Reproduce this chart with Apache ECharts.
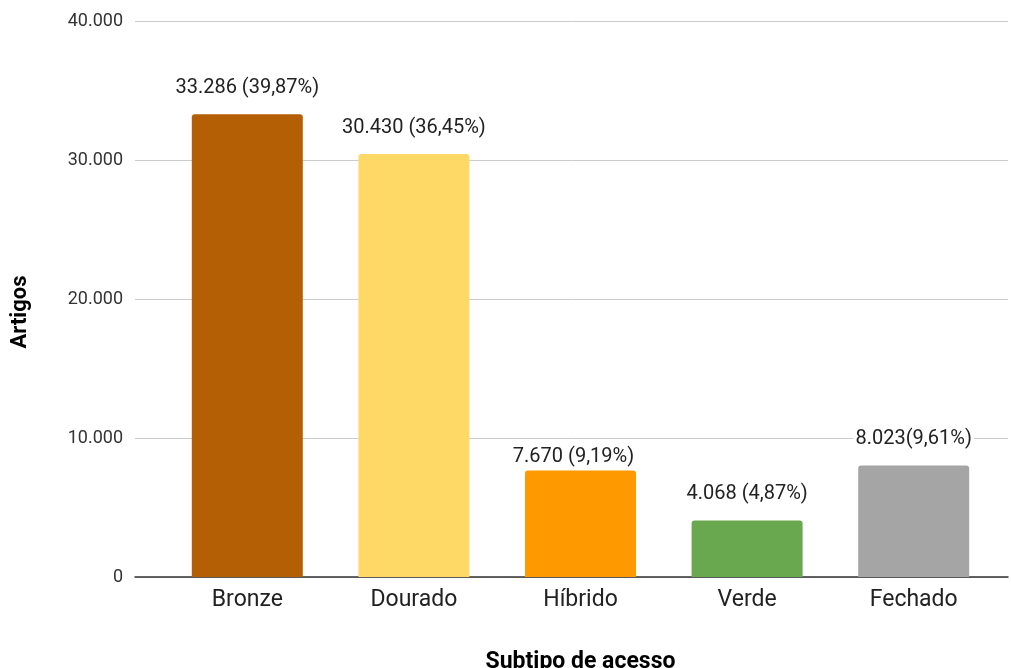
<!DOCTYPE html>
<html>
<head>
<meta charset="utf-8">
<script src="https://cdn.jsdelivr.net/npm/echarts@6/dist/echarts.min.js"></script>
<style>
  html, body { margin: 0; padding: 0; background: #ffffff; }
  #chart { width: 1011px; height: 668px; }
</style>
</head>
<body>
<div id="chart"></div>
<script>
// Articles per access subtype
const categories = ['Bronze', 'Dourado', 'Híbrido', 'Verde', 'Fechado'];
const articles = [33286, 30430, 7670, 4068, 8023];
const shares = ['39,87%', '36,45%', '9,19%', '4,87%', '9,61%'];
const shareGaps = [' ', ' ', ' ', ' ', ''];
const barColors = ['#b45f06', '#ffd966', '#ff9900', '#6aa84f', '#a5a5a5'];
const yTicks = [0, 10000, 20000, 30000, 40000];
const yTitle = 'Artigos';
const xTitle = 'Subtipo de acesso';

const fmt = v => String(v).replace(/\B(?=(\d{3})+(?!\d))/g, '.');

const yMin = yTicks[0];
const yMax = yTicks[yTicks.length - 1];
const yStep = yTicks[1] - yTicks[0];

// the Híbrido label sits lower and slightly left of its bar
const labelTweaks = { 2: { distance: 3, offset: [-7, 0] } };

const chart = echarts.init(document.getElementById('chart'));
chart.setOption({
  backgroundColor: '#ffffff',
  animation: false,
  textStyle: { fontFamily: 'Roboto' },
  grid: [
    // frame with gridlines and baseline
    { left: 135, right: 3, top: 21, bottom: 91, outerBoundsMode: 'none', containLabel: false },
    // bars
    { left: 164, right: 14, top: 21, bottom: 91, outerBoundsMode: 'none', containLabel: false }
  ],
  graphic: [{
    type: 'text', x: 20, y: 312, rotation: Math.PI / 2,
    style: {
      text: yTitle, align: 'center', verticalAlign: 'middle',
      fill: '#000000', font: 'bold 22px Roboto'
    }
  }],
  xAxis: [
    {
      gridIndex: 0, type: 'value', min: 0, max: 1,
      axisLine: { show: true, lineStyle: { color: '#333333', width: 1.5 } },
      axisTick: { show: false }, axisLabel: { show: false }, splitLine: { show: false }
    },
    {
      gridIndex: 1, type: 'category', data: categories,
      axisLine: { show: false }, axisTick: { show: false },
      axisLabel: { color: '#222222', fontSize: 23, margin: 12 },
      name: xTitle, nameLocation: 'middle', nameGap: 74,
      nameTextStyle: { color: '#000000', fontSize: 23, fontWeight: 'bold' }
    }
  ],
  yAxis: [
    {
      gridIndex: 0, type: 'value', min: yMin, max: yMax, interval: yStep,
      axisLine: { show: false }, axisTick: { show: false },
      axisLabel: { color: '#333333', fontSize: 18, margin: 12, formatter: v => fmt(v) },
      splitLine: { lineStyle: { color: '#cccccc', width: 1 } }
    },
    {
      gridIndex: 1, type: 'value', min: yMin, max: yMax, interval: yStep,
      show: false
    }
  ],
  series: [{
    type: 'bar',
    xAxisIndex: 1, yAxisIndex: 1,
    barWidth: 111,
    data: articles.map((v, i) => ({
      value: v,
      itemStyle: { color: barColors[i], borderRadius: [3, 3, 0, 0] },
      label: labelTweaks[i] || {}
    })),
    label: {
      show: true, position: 'top', distance: 16,
      color: '#222222', fontSize: 20,
      backgroundColor: '#ffffff', padding: [0, 2],
      formatter: p => fmt(p.value) + shareGaps[p.dataIndex] + '(' + shares[p.dataIndex] + ')'
    }
  }]
});
</script>
</body>
</html>
